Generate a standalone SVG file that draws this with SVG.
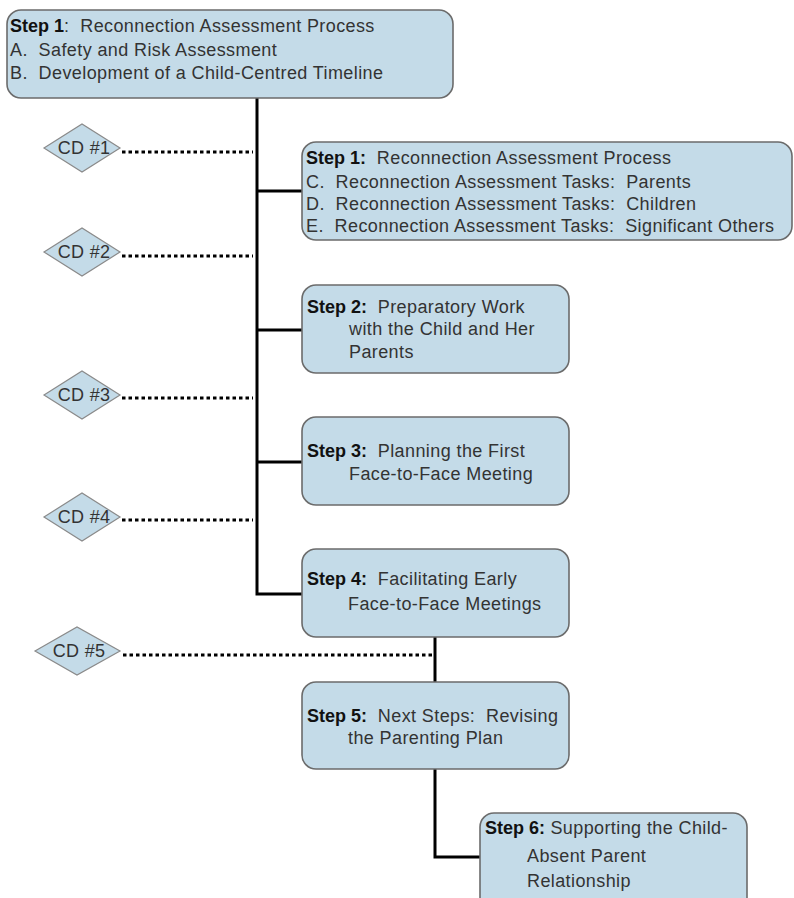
<svg xmlns="http://www.w3.org/2000/svg" width="794" height="898" viewBox="0 0 794 898" xml:space="preserve">
<style>
.box{fill:#c4dbe8;stroke:#6b6b6b;stroke-width:1.6}
.dia{fill:#c4dbe8;stroke:#8a8a8a;stroke-width:1.2}
.t{font-family:"Liberation Sans",Arial,sans-serif;font-size:18px;letter-spacing:0.4px;fill:#333;white-space:pre}
.b{font-weight:bold;fill:#111;letter-spacing:0}
.ct{font-family:"Liberation Sans",Arial,sans-serif;font-size:18px;letter-spacing:0.3px;fill:#333;text-anchor:middle}
.ln{stroke:#000;stroke-width:3;fill:none}
.dot{stroke:#000;stroke-width:3;stroke-dasharray:3.5 3;fill:none}
</style>
<rect width="794" height="898" fill="#fff"/>
<g id="connectors">
<polyline class="ln" points="257,98 257,594 302,594"/>
<line class="ln" x1="257" y1="191" x2="302" y2="191"/>
<line class="ln" x1="257" y1="330" x2="302" y2="330"/>
<line class="ln" x1="257" y1="462" x2="302" y2="462"/>
<line class="ln" x1="435" y1="637" x2="435" y2="682"/>
<polyline class="ln" points="435,769 435,857 480,857"/>
<line class="dot" x1="122" y1="152" x2="253" y2="152"/>
<line class="dot" x1="122" y1="256" x2="253" y2="256"/>
<line class="dot" x1="122" y1="398" x2="253" y2="398"/>
<line class="dot" x1="122" y1="520" x2="253" y2="520"/>
<line class="dot" x1="123" y1="655" x2="434" y2="655"/>
</g>
<g id="step1a">
<rect class="box" x="7" y="10" width="446" height="88" rx="14"/>
<text class="t" x="10" y="32"><tspan class="b">Step 1</tspan>:  Reconnection Assessment Process</text>
<text class="t" x="10" y="56">A.  Safety and Risk Assessment</text>
<text class="t" x="10" y="79">B.  Development of a Child-Centred Timeline</text>
</g>
<g id="step1b">
<rect class="box" x="302" y="142" width="490" height="98" rx="14"/>
<text class="t" x="306" y="164"><tspan class="b">Step 1:</tspan>  Reconnection Assessment Process</text>
<text class="t" x="306" y="188">C.  Reconnection Assessment Tasks:  Parents</text>
<text class="t" x="306" y="210">D.  Reconnection Assessment Tasks:  Children</text>
<text class="t" x="306" y="232">E.  Reconnection Assessment Tasks:  Significant Others</text>
</g>
<g id="step2">
<rect class="box" x="302" y="285" width="267" height="88" rx="14"/>
<text class="t" x="307" y="313"><tspan class="b">Step 2:</tspan>  Preparatory Work</text>
<text class="t" x="349" y="335">with the Child and Her</text>
<text class="t" x="349" y="358">Parents</text>
</g>
<g id="step3">
<rect class="box" x="302" y="417" width="267" height="88" rx="14"/>
<text class="t" x="307" y="457"><tspan class="b">Step 3:</tspan>  Planning the First</text>
<text class="t" x="349" y="480">Face-to-Face Meeting</text>
</g>
<g id="step4">
<rect class="box" x="302" y="549" width="267" height="88" rx="14"/>
<text class="t" x="307" y="585"><tspan class="b">Step 4:</tspan>  Facilitating Early</text>
<text class="t" x="348" y="610">Face-to-Face Meetings</text>
</g>
<g id="step5">
<rect class="box" x="302" y="682" width="267" height="87" rx="14"/>
<text class="t" x="307" y="722"><tspan class="b">Step 5:</tspan>  Next Steps:  Revising</text>
<text class="t" x="348" y="744">the Parenting Plan</text>
</g>
<g id="step6">
<rect class="box" x="480" y="813" width="267" height="100" rx="14"/>
<text class="t" x="485" y="834"><tspan class="b">Step 6:</tspan> Supporting the Child-</text>
<text class="t" x="527" y="862">Absent Parent</text>
<text class="t" x="527" y="887">Relationship</text>
</g>
<g id="cd1">
<polygon class="dia" points="44,148 82,124 120,148 82,172"/>
<text class="ct" x="84" y="154">CD #1</text>
</g>
<g id="cd2">
<polygon class="dia" points="44,252 82,228 120,252 82,276"/>
<text class="ct" x="84" y="258">CD #2</text>
</g>
<g id="cd3">
<polygon class="dia" points="44,395 82,371 120,395 82,419"/>
<text class="ct" x="84" y="401">CD #3</text>
</g>
<g id="cd4">
<polygon class="dia" points="44,517 82,493 120,517 82,541"/>
<text class="ct" x="84" y="523">CD #4</text>
</g>
<g id="cd5">
<polygon class="dia" points="35,651 77,627 120,651 77,675"/>
<text class="ct" x="79" y="657">CD #5</text>
</g>
</svg>
